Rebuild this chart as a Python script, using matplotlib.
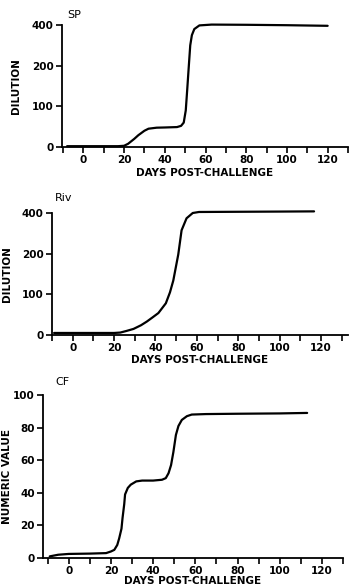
import numpy as np
import matplotlib
matplotlib.use('Agg')
import matplotlib.pyplot as plt

# (days post-challenge, value)
sp_days = [-8, 0, 10, 17, 20, 22, 25, 27, 30, 32, 36, 40, 46, 48, 49.3, 50.3, 51, 51.7, 52.5, 53.3, 54.5, 57, 63, 80, 100, 120]
sp_vals = [2, 2, 2, 2, 3, 8, 20, 29, 40, 45, 47.5, 48, 49, 52, 60, 90, 140, 192, 300, 350, 380, 398, 402, 401, 399, 396]

riv_days = [-9, 0, 10, 20, 23, 26, 29.4, 33, 35.8, 38.5, 41.4, 45, 47, 48.6, 51, 52.6, 55, 58, 61, 80, 100, 116.6]
riv_vals = [5, 5, 5, 5, 6, 10, 15, 24, 33, 43, 54, 78, 105, 134, 198, 315, 374, 400, 405, 406, 407, 408]

cf_days = [-9, -5, 0, 10, 17.7, 20, 21.6, 23, 23.9, 25, 25.5, 26.3, 26.7, 28, 29.4, 32, 34.8, 40, 44.2, 46, 47.3, 48.5, 49.6, 50.8, 52, 53.6, 56, 58.3, 65, 80, 100, 113]
cf_vals = [1, 2, 2.5, 2.7, 3, 4, 5, 8, 12, 18, 24.5, 33, 39, 43, 45, 47, 47.5, 47.5, 48, 49, 52, 57, 65, 75.5, 81, 84.7, 87, 88, 88.3, 88.5, 88.7, 89]

dil_ticks = [0, 100, 200, 400]
dil_pos = [0, 1, 2, 3]
day_ticks = [0, 20, 40, 60, 80, 100, 120]
day_minor = [-10, 10, 30, 50, 70, 90, 110, 130]
cf_ticks = [0, 20, 40, 60, 80, 100]


def fwd(v):
    v = np.asarray(v, dtype=float)
    return np.interp(v, dil_ticks, dil_pos) + np.where(v > 400, (v - 400) / 200.0, 0)


def inv(p):
    return np.interp(p, dil_pos, dil_ticks)


plt.rcParams['font.family'] = 'DejaVu Sans'
plt.rcParams['font.size'] = 7.5
plt.rcParams['font.weight'] = 'bold'
plt.rcParams['axes.labelweight'] = 'bold'

fig = plt.figure(figsize=(3.5, 5.88), dpi=100)

ax1 = fig.add_axes([62/350, 1-147/588, 286/350, 122/588])
ax2 = fig.add_axes([52/350, 1-335/588, 296/350, 122/588])
ax3 = fig.add_axes([43/350, 1-558/588, 300/350, 163/588])

panels = [
    (ax1, sp_days, sp_vals, 'SP', 'DILUTION', (-10.5, 128), (0.02, 1.06), -0.142, 2),
    (ax2, riv_days, riv_vals, 'Riv', 'DILUTION', (-9.6, 133), (0.01, 1.10), -0.135, 1),
    (ax3, cf_days, cf_vals, 'CF', 'NUMERIC VALUE', (-12.2, 128), (0.04, 1.06), -0.103, 0),
]

for ax, d, v, name, ylab, xl, tpos, lx, lp in panels:
    ax.plot(d, v, color='black', lw=1.6, clip_on=False, solid_capstyle='round')
    if ax is not ax3:
        ax.set_yscale('function', functions=(fwd, inv))
        ax.set_yticks(dil_ticks)
        ax.set_yticklabels([str(t) for t in dil_ticks])
        ax.set_ylim(0, 400)
    else:
        ax.set_yticks(cf_ticks)
        ax.set_ylim(0, 100)
    ax.yaxis.set_minor_locator(matplotlib.ticker.NullLocator())
    ax.set_xlim(*xl)
    ax.set_xticks(day_ticks)
    ax.set_xticks(day_minor, minor=True)
    ax.spines['top'].set_visible(False)
    ax.spines['right'].set_visible(False)
    for s in ['left', 'bottom']:
        ax.spines[s].set_linewidth(1.3)
    ax.tick_params(which='both', direction='out', length=4, width=1.2, pad=2)
    ax.set_xlabel('DAYS POST-CHALLENGE', labelpad=lp)
    ax.set_ylabel(ylab)
    ax.yaxis.set_label_coords(lx, 0.5)
    ax.text(tpos[0], tpos[1], name, transform=ax.transAxes, fontsize=8, fontweight='normal')

fig.savefig('out.png', dpi=100)
